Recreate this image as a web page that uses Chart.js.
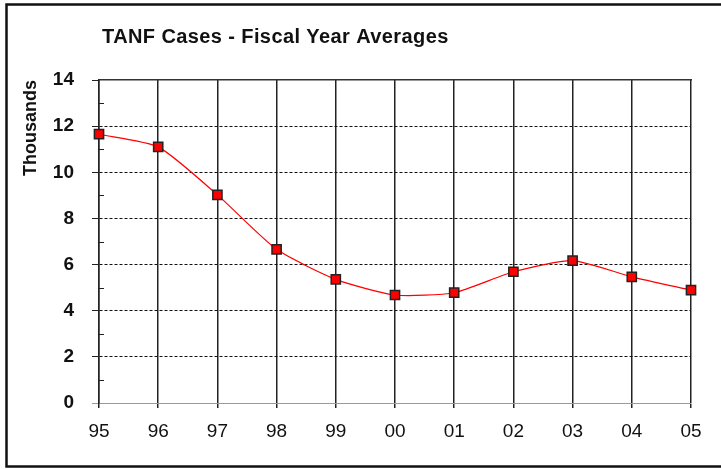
<!DOCTYPE html>
<html>
<head>
<meta charset="utf-8">
<script src="https://cdn.jsdelivr.net/npm/chart.js@4"></script>
<style>
  body { margin: 0; background: #fff; }
</style>
</head>
<body>
<canvas id="tanfChart" width="721" height="469"></canvas>
<script>
const years = ['95', '96', '97', '98', '99', '00', '01', '02', '03', '04', '05'];
const cases = [11.65, 11.1, 9.02, 6.66, 5.36, 4.68, 4.78, 5.69, 6.17, 5.47, 4.89];
const minorTicks = [1, 3, 5, 7, 9, 11, 13];
const chartTitle = 'TANF Cases - Fiscal Year Averages';
const yTitle = 'Thousands';
const FONT = "'Liberation Sans', Arial, sans-serif";

// white background, frame, title and the small minor ticks on the y axis
const decor = {
    id: 'decor',
    beforeDraw(chart) {
        const ctx = chart.ctx;
        ctx.save();
        ctx.fillStyle = '#fff';
        ctx.fillRect(0, 0, chart.width, chart.height);
        ctx.restore();
    },
    afterDraw(chart) {
        const ctx = chart.ctx;
        ctx.save();
        ctx.strokeStyle = '#111';
        ctx.lineWidth = 2.5;
        ctx.strokeRect(6.5, 4.5, 740, 462);

        ctx.fillStyle = '#111';
        ctx.font = 'bold 20px ' + FONT;
        ctx.letterSpacing = '0.4px';
        ctx.textBaseline = 'alphabetic';
        ctx.fillText(chartTitle, 102, 43);

        const y = chart.scales.y;
        const left = chart.chartArea.left;
        ctx.strokeStyle = '#222';
        ctx.lineWidth = 1;
        ctx.beginPath();
        minorTicks.forEach(v => {
            const py = Math.round(y.getPixelForValue(v)) + 0.5;
            ctx.moveTo(left, py);
            ctx.lineTo(left + 5, py);
        });
        ctx.stroke();
        ctx.restore();
    }
};

const ctx = document.getElementById('tanfChart').getContext('2d');
new Chart(ctx, {
    type: 'line',
    data: {
        labels: years,
        datasets: [{
            label: yTitle,
            data: cases,
            borderColor: '#ff0000',
            borderWidth: 1.2,
            tension: 0.2,
            pointStyle: 'rect',
            pointRadius: 6.5,
            pointBackgroundColor: '#ff0000',
            pointBorderColor: '#222',
            pointBorderWidth: 1.5
        }]
    },
    options: {
        responsive: false,
        animation: false,
        layout: { padding: { top: 80, right: 30, left: 0, bottom: 0 } },
        plugins: {
            legend: { display: false },
            tooltip: { enabled: false }
        },
        scales: {
            x: {
                offset: false,
                grid: { color: '#222', lineWidth: 1.5, tickLength: 5, tickColor: '#222' },
                border: { color: '#9a9a9a', width: 1 },
                ticks: {
                    color: '#111',
                    font: { family: FONT, size: 19 },
                    padding: 12,
                    maxRotation: 0,
                    autoSkip: false
                },
                afterFit: s => { s.height = 66; }
            },
            xTop: {
                type: 'category',
                position: 'top',
                offset: false,
                grid: { display: false },
                ticks: { display: false },
                border: { color: '#333', width: 1.5 },
                afterFit: s => { s.height = 0; }
            },
            y: {
                min: 0,
                max: 14,
                ticks: {
                    stepSize: 2,
                    color: '#111',
                    font: { family: FONT, size: 19, weight: 'bold' },
                    padding: 18
                },
                grid: {
                    color: c => (c.tick.value === 0 || c.tick.value === 14) ? 'rgba(0,0,0,0)' : '#111',
                    tickColor: c => c.tick.value === 0 ? '#9a9a9a' : '#222',
                    tickLength: 7,
                    lineWidth: 1
                },
                border: { color: '#222', width: 1.5, dash: [3, 2] },
                title: {
                    display: true,
                    text: yTitle,
                    align: 'end',
                    color: '#111',
                    font: { family: FONT, size: 18, weight: 'bold' },
                    padding: { top: 20, bottom: 0 }
                },
                afterFit: s => { s.width = 99; }
            }
        }
    },
    plugins: [decor]
});
</script>
</body>
</html>
